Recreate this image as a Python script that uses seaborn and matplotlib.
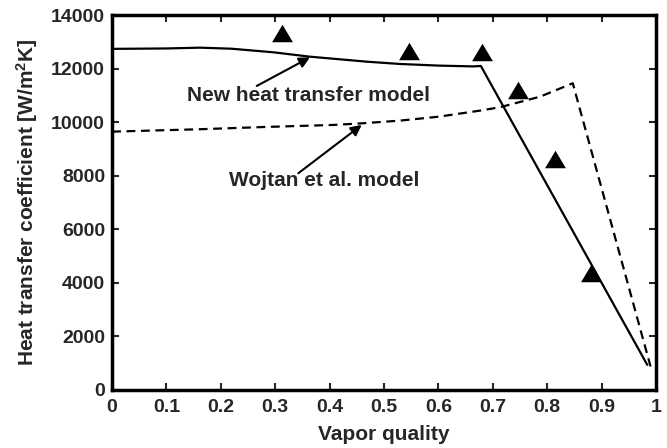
import matplotlib
matplotlib.use("Agg")
import matplotlib.pyplot as plt
import seaborn as sns
import pandas as pd

# ---- data ----
exp_x = [0.3125, 0.5465, 0.681, 0.746, 0.815, 0.8805]
exp_y = [13330, 12667, 12630, 11200, 8624, 4357]

new_x = [0.0, 0.10, 0.162, 0.22, 0.296, 0.364, 0.468, 0.529, 0.60, 0.664, 0.678, 0.984]
new_y = [12735, 12750, 12780, 12740, 12608, 12443, 12257, 12171, 12110, 12080, 12096, 930]

woj_x = [0.0, 0.162, 0.284, 0.407, 0.462, 0.529, 0.60, 0.676, 0.713, 0.787, 0.847, 0.990]
woj_y = [9643, 9733, 9819, 9893, 9957, 10054, 10200, 10427, 10554, 10950, 11450, 870]

xticks = [0, 0.1, 0.2, 0.3, 0.4, 0.5, 0.6, 0.7, 0.8, 0.9, 1]
xticklabels = ["0", "0.1", "0.2", "0.3", "0.4", "0.5", "0.6", "0.7", "0.8", "0.9", "1"]
yticks = [0, 2000, 4000, 6000, 8000, 10000, 12000, 14000]
yticklabels = ["0", "2000", "4000", "6000", "8000", "10000", "12000", "14000"]

sns.set_style("ticks")
plt.rcParams["font.family"] = ["Liberation Sans", "DejaVu Sans"]
plt.rcParams["font.weight"] = "bold"
plt.rcParams["mathtext.fontset"] = "custom"
plt.rcParams["mathtext.rm"] = "Liberation Sans:bold"
plt.rcParams["mathtext.bf"] = "Liberation Sans:bold"
plt.rcParams["mathtext.it"] = "Liberation Sans:bold"

fig = plt.figure(figsize=(6.67, 4.48), dpi=100)
ax = fig.add_axes([0.168, 0.13, 0.8155, 0.8365])

new_df = pd.DataFrame({"x": new_x, "y": new_y})
woj_df = pd.DataFrame({"x": woj_x, "y": woj_y})
exp_df = pd.DataFrame({"x": exp_x, "y": exp_y})

sns.lineplot(data=new_df, x="x", y="y", ax=ax, color="black", lw=1.6,
             sort=False, estimator=None)
sns.lineplot(data=woj_df, x="x", y="y", ax=ax, color="black", lw=1.6,
             sort=False, estimator=None, linestyle=(0, (4, 2.5)))
tri = [(-1, -0.84), (1, -0.84), (0, 0.84)]
sns.scatterplot(data=exp_df, x="x", y="y", ax=ax, marker=tri, s=15**2,
                color="black", linewidth=0, zorder=5)

arrow = dict(arrowstyle="-|>", lw=1.5, color="black", mutation_scale=16,
             shrinkA=0, shrinkB=0)
ax.annotate("", xy=(0.364, 12421), xytext=(0.266, 11349), arrowprops=arrow)
ax.annotate("", xy=(0.459, 9893), xytext=(0.3425, 8090), arrowprops=arrow)
ax.text(0.3605, 10990, "New heat transfer model", ha="center", va="center",
        fontsize=15, fontweight="bold")
ax.text(0.390, 7820, "Wojtan et al. model", ha="center", va="center",
        fontsize=15, fontweight="bold")

ax.set_xlim(0, 1)
ax.set_ylim(0, 14000)
ax.set_xticks(xticks)
ax.set_xticklabels(xticklabels)
ax.set_yticks(yticks)
ax.set_yticklabels(yticklabels)
ax.tick_params(direction="in", top=True, right=True, length=5, width=1.5,
               labelsize=14)
ax.tick_params(axis="x", pad=7)
ax.tick_params(axis="y", pad=5)
for lab in ax.get_xticklabels() + ax.get_yticklabels():
    lab.set_fontweight("bold")
for sp in ax.spines.values():
    sp.set_visible(True)
    sp.set_linewidth(2.5)
    sp.set_color("black")

ax.set_xlabel("Vapor quality", fontsize=15, fontweight="bold", labelpad=6)
ax.set_ylabel(r"Heat transfer coefficient [W/m$^{\mathbf{2}}$K]", fontsize=15,
              fontweight="bold", labelpad=8)

fig.savefig("out.png", dpi=100)
